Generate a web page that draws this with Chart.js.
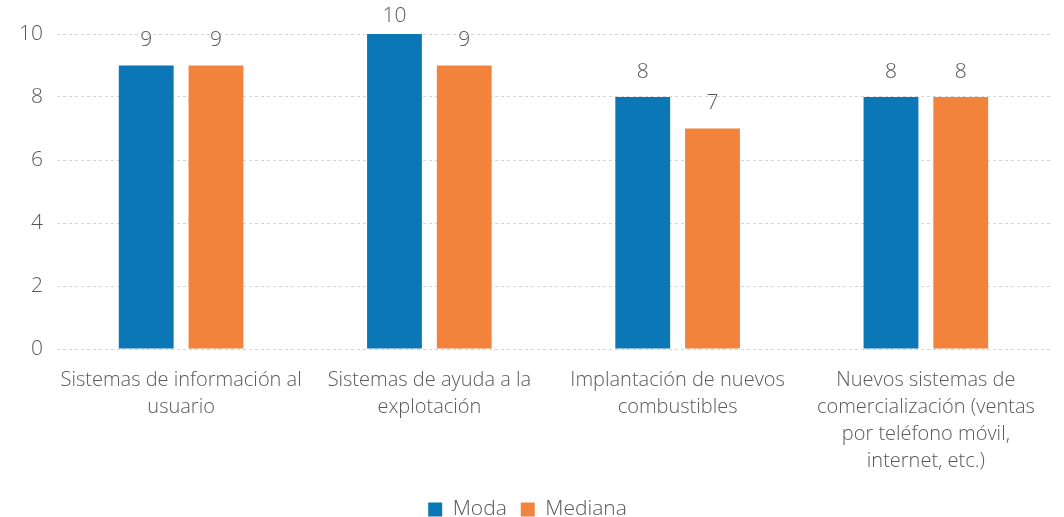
<!DOCTYPE html>
<html>
<head>
<meta charset="utf-8">
<script src="https://cdn.jsdelivr.net/npm/chart.js@4"></script>
<style>
  html, body { margin: 0; padding: 0; background: #fff; }
  #wrap { width: 1064px; height: 517px; }
</style>
</head>
<body>
<div id="wrap"><canvas id="myChart1"></canvas></div>
<script>
const categories = [
  ['Sistemas de información al', 'usuario'],
  ['Sistemas de ayuda a la', 'explotación'],
  ['Implantación de nuevos', 'combustibles'],
  ['Nuevos sistemas de', 'comercialización (ventas', 'por teléfono móvil,', 'internet, etc.)']
];
const moda = [9, 10, 8, 8];
const mediana = [9, 9, 7, 8];
const yTicks = [0, 2, 4, 6, 8, 10];

const textColor = '#595959';
const fontFamily = '"Open Sans", Lato, sans-serif';

// draw the value above each bar
const valueLabels = {
  id: 'valueLabels',
  afterDatasetsDraw(chart) {
    const c = chart.ctx;
    const minY = chart.chartArea.top - 18;
    c.save();
    c.font = '300 21px ' + fontFamily;
    c.fillStyle = textColor;
    c.textAlign = 'center';
    c.textBaseline = 'middle';
    chart.data.datasets.forEach((ds, i) => {
      chart.getDatasetMeta(i).data.forEach((bar, j) => {
        c.fillText(ds.data[j], bar.x, Math.max(bar.y - 25, minY));
      });
    });
    c.restore();
  }
};

const ctx = document.getElementById('myChart1');

new Chart(ctx, {
  type: 'bar',
  data: {
    labels: categories,
    datasets: [
      {
        label: 'Moda',
        data: moda,
        backgroundColor: '#0b77b6',
        barPercentage: 0.786,
        categoryPercentage: 0.562
      },
      {
        label: 'Mediana',
        data: mediana,
        backgroundColor: '#f2833d',
        barPercentage: 0.786,
        categoryPercentage: 0.562
      }
    ]
  },
  options: {
    responsive: true,
    maintainAspectRatio: false,
    animation: false,
    layout: { padding: { top: 34, right: 14, left: 5, bottom: -13 } },
    scales: {
      x: {
        grid: { display: false },
        border: { display: false },
        ticks: {
          autoSkip: false,
          maxRotation: 0,
          minRotation: 0,
          color: textColor,
          padding: 10,
          font: { family: fontFamily, size: 20, weight: 300, lineHeight: 1.35 }
        }
      },
      y: {
        min: 0,
        max: 10,
        afterBuildTicks: (axis) => { axis.ticks = yTicks.map(v => ({ value: v })); },
        border: { display: false, dash: [3, 3] },
        grid: { color: '#d4d4d4', lineWidth: 1, drawTicks: false },
        ticks: {
          color: textColor,
          padding: 14,
          font: { family: fontFamily, size: 21, weight: 300 }
        }
      }
    },
    plugins: {
      legend: {
        position: 'bottom',
        labels: {
          color: textColor,
          boxWidth: 14,
          boxHeight: 14,
          padding: 14,
          font: { family: fontFamily, size: 21, weight: 300 }
        }
      },
      tooltip: { enabled: false }
    }
  },
  plugins: [valueLabels]
});
</script>
</body>
</html>
